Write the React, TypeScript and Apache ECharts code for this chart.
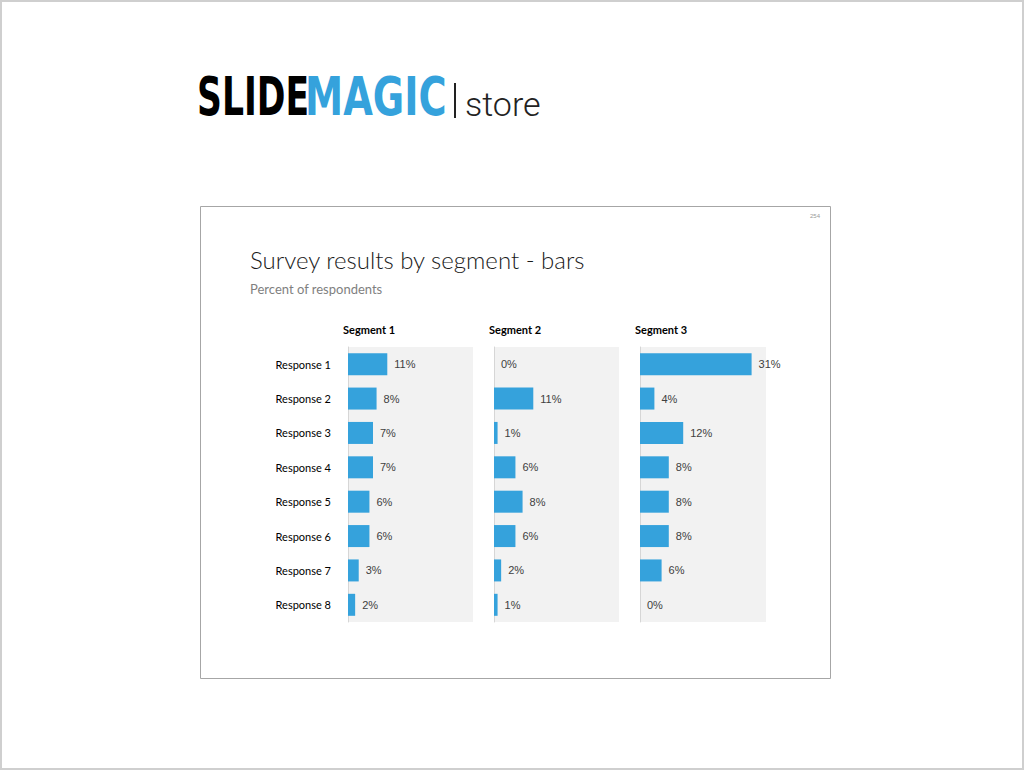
import React, { useEffect, useRef } from "react";
import * as echarts from "echarts";

const responses = ["Response 1", "Response 2", "Response 3", "Response 4", "Response 5", "Response 6", "Response 7", "Response 8"];
const segments = ["Segment 1", "Segment 2", "Segment 3"];
const segment1 = [11, 8, 7, 7, 6, 6, 3, 2];
const segment2 = [0, 11, 1, 6, 8, 6, 2, 1];
const segment3 = [31, 4, 12, 8, 8, 8, 6, 0];
const segmentValues = [segment1, segment2, segment3];

const BLUE = "#35a2dc";

export default function App() {
  const ref = useRef<HTMLDivElement>(null);
  useEffect(() => {
    if (!ref.current) return;
    const chart = echarts.init(ref.current, null, { renderer: "svg" });
    const lefts = [348, 494, 640];
    const widths = [125, 125, 126];
    const grids = lefts.map((l, i) => ({
      left: l,
      top: 347,
      width: widths[i],
      height: 275,
      show: true,
      backgroundColor: "#f2f2f2",
      borderWidth: 0,
    }));
    const xAxes = lefts.map((_, i) => ({
      type: "value",
      gridIndex: i,
      min: 0,
      max: 35,
      show: false,
    }));
    const yAxes = lefts.map((_, i) => ({
      type: "category",
      gridIndex: i,
      data: responses,
      inverse: true,
      axisTick: { show: false },
      axisLine: { show: true, lineStyle: { color: "#d6d6d6", width: 1 } },
      axisLabel: {
        show: i === 0,
        color: "#000",
        fontSize: 11,
        fontFamily: "Lato",
        margin: 17,
      },
    }));
    const series = segmentValues.map((vals, i) => ({
      type: "bar",
      xAxisIndex: i,
      yAxisIndex: i,
      data: vals,
      barCategoryGap: "36%",
      itemStyle: { color: BLUE },
      label: {
        show: true,
        position: "right",
        distance: 7,
        formatter: "{c}%",
        color: "#404040",
        fontSize: 11,
        fontFamily: "Liberation Sans",
      },
    }));
    const graphic: any[] = [
      { type: "rect", shape: { x: 1, y: 1, width: 1022, height: 768 }, style: { fill: "none", stroke: "#cfcfcf", lineWidth: 2 } },
      { type: "rect", shape: { x: 200.5, y: 206.5, width: 630, height: 472 }, style: { fill: "none", stroke: "#a6a6a6", lineWidth: 1 } },
      { type: "text", x: 197, y: 97, scaleX: 0.64, style: { text: "SLIDE", fontFamily: "DejaVu Sans", fontWeight: "bold", fontSize: 54, fill: "#000", textAlign: "left", verticalAlign: "middle" } },
      { type: "text", x: 305, y: 97, scaleX: 0.71, style: { text: "MAGIC", fontFamily: "DejaVu Sans", fontWeight: "bold", fontSize: 54, fill: BLUE, textAlign: "left", verticalAlign: "middle" } },
      { type: "line", shape: { x1: 455, y1: 83, x2: 455, y2: 118 }, style: { stroke: "#222", lineWidth: 2 } },
      { type: "text", x: 465, y: 104, style: { text: "store", fontFamily: "Roboto", fontWeight: 300, fontSize: 34, fill: "#222", textAlign: "left", verticalAlign: "middle" } },
      { type: "text", x: 820, y: 216, style: { text: "254", fontFamily: "Liberation Sans", fontSize: 6, fill: "#999", textAlign: "right", verticalAlign: "middle" } },
      { type: "text", x: 250, y: 259, style: { text: "Survey results by segment - bars", fontFamily: "Lato", fontWeight: 300, fontSize: 24, fill: "#1a1a1a", textAlign: "left", verticalAlign: "middle" } },
      { type: "text", x: 250, y: 289, style: { text: "Percent of respondents", fontFamily: "Lato", fontSize: 13, fill: "#7f7f7f", textAlign: "left", verticalAlign: "middle" } },
    ];
    lefts.forEach((l, i) => {
      graphic.push({
        type: "text",
        x: l - 5,
        y: 329,
        style: { text: segments[i], fontFamily: "Lato", fontWeight: "bold", fontSize: 11, fill: "#000", textAlign: "left", verticalAlign: "middle" },
      });
    });
    chart.setOption({
      animation: false,
      backgroundColor: "#fff",
      grid: grids,
      xAxis: xAxes,
      yAxis: yAxes,
      series,
      graphic,
    });
    return () => chart.dispose();
  }, []);
  return <div ref={ref} style={{ position: "fixed", left: 0, top: 0, width: 1024, height: 770 }} />;
}
